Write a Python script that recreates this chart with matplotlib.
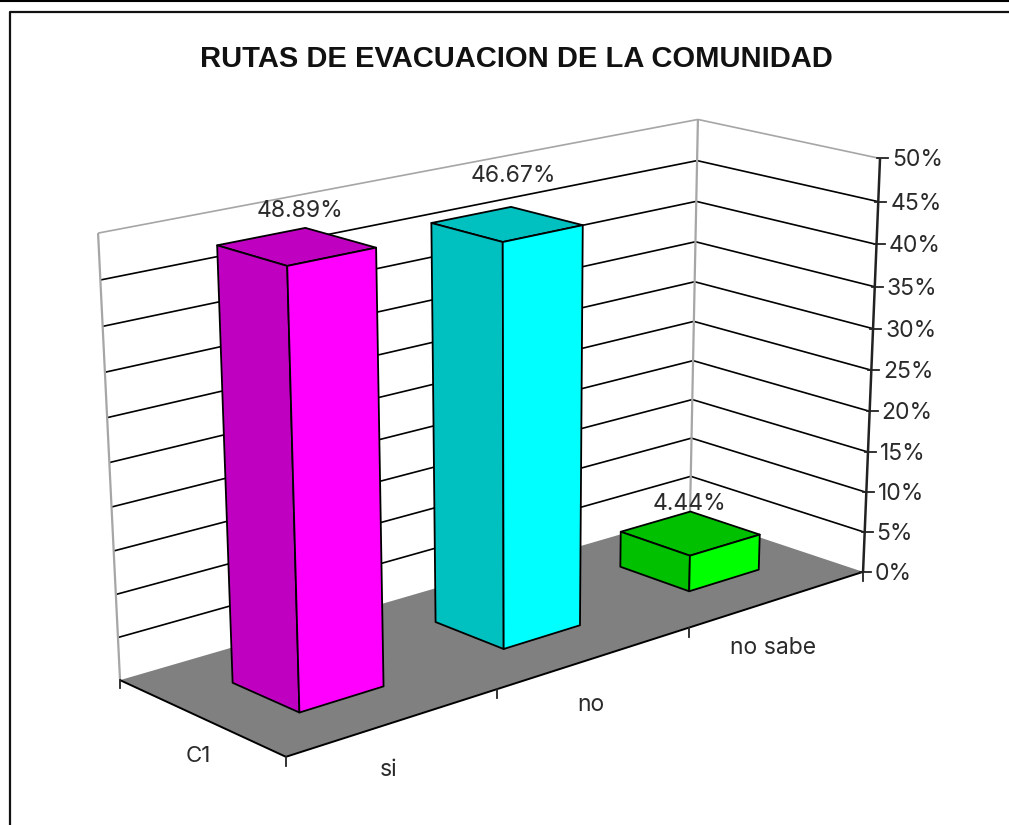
import numpy as np
import matplotlib
matplotlib.use('Agg')
import matplotlib.pyplot as plt
from matplotlib.patches import Polygon

categories = ['si', 'no', 'no sabe']
values = [48.89, 46.67, 4.44]
value_labels = ['48.89%', '46.67%', '4.44%']
tick_values = [0, 5, 10, 15, 20, 25, 30, 35, 40, 45, 50]
series_name = 'C1'
title = 'RUTAS DE EVACUACION DE LA COMUNIDAD'
side_colors = ['#c000c0', '#00c0c0', '#00c000']
front_colors = ['#ff00ff', '#00ffff', '#00ff00']

plt.rcParams['font.family'] = ['Inter', 'Liberation Sans', 'DejaVu Sans']
W, H = 1009, 825
TXT = '#2a2a2a'

# camera fit: chart box corners (cat, depth, pct) -> picture pixels
box = np.array([[0, 0, 0], [3, 0, 0], [0, 1, 0], [3, 1, 0],
                [3, 0, 50], [0, 1, 50], [3, 1, 50]], float)
pix = np.array([[286, 756], [863, 573], [120, 681], [690, 513],
                [880, 158], [98, 233], [698, 120]], float)
A = []
b = []
for (x, y, z), (u, v) in zip(box, pix):
    A.append([x, y, z, 1, 0, 0, 0, 0, -u*x, -u*y, -u*z])
    A.append([0, 0, 0, 0, x, y, z, 1, -v*x, -v*y, -v*z])
    b += [u, v]
P = np.append(np.linalg.lstsq(np.array(A), np.array(b), rcond=None)[0], 1).reshape(3, 4)


def proj(x, y, z):
    q = P @ np.array([x, y, z, 1.0])
    return q[0] / q[2], q[1] / q[2]


def poly(ax, pts, fc, ec='black', lw=1.3, zorder=2):
    ax.add_patch(Polygon([proj(*p) for p in pts], closed=True, facecolor=fc,
                         edgecolor=ec, linewidth=lw, joinstyle='round', zorder=zorder))


def line(ax, a, b, color='black', lw=1.2, zorder=1):
    pa, pb = proj(*a), proj(*b)
    ax.plot([pa[0], pb[0]], [pa[1], pb[1]], color=color, lw=lw, zorder=zorder,
            solid_capstyle='butt')


fig = plt.figure(figsize=(W/100, H/100), dpi=100)
ax = fig.add_axes([0, 0, 1, 1])
ax.set_xlim(0, W)
ax.set_ylim(H, 0)
ax.axis('off')

# frame of the screenshot
ax.plot([0, W], [0.5, 0.5], color='black', lw=1.5)
ax.plot([9.5, 9.5, W], [H, 12, 12], color='#111111', lw=1.6)

ax.text(516, 59, title, ha='center', va='center', fontsize=21, fontweight='bold',
        color='#111111', family=['Liberation Sans', 'DejaVu Sans'])

# floor
poly(ax, [(0, 0, 0), (3, 0, 0), (3, 1, 0), (0, 1, 0)], '#808080', ec='none', lw=0, zorder=1)
line(ax, (0, 0, 0), (3, 0, 0), lw=1.4, zorder=1.5)
line(ax, (0, 0, 0), (0, 1, 0), lw=1.4, zorder=1.5)

# walls and gridlines
for t in tick_values[1:-1]:
    line(ax, (0, 1, t), (3, 1, t))
    line(ax, (3, 1, t), (3, 0, t))
line(ax, (0, 1, 50), (3, 1, 50), color='#a6a6a6', lw=1.2)
line(ax, (3, 1, 50), (3, 0, 50), color='#a6a6a6', lw=1.2)
line(ax, (0, 1, 0), (0, 1, 50), color='#a6a6a6', lw=1.6)
line(ax, (3, 1, 0), (3, 1, 50), color='#a6a6a6', lw=1.6)

# value axis
line(ax, (3, 0, 0), (3, 0, 50), color='#222222', lw=1.8, zorder=1.6)
for t in tick_values:
    u, v = proj(3, 0, t)
    ax.plot([u-3, u+8], [v, v], color='#222222', lw=1.3, zorder=1.6)
    ax.text(u+12, v+2, f'{t}%', ha='left', va='center', fontsize=16.5, color=TXT)

# category ticks and labels
for i in range(4):
    u, v = proj(i, 0, 0)
    ax.plot([u, u], [v, v+9], color='#222222', lw=1.3, zorder=1.6)
u, v = proj(0, 1, 0)
ax.plot([u, u], [v, v+8], color='#222222', lw=1.3, zorder=1.6)

label_pos = [(389, 770), (591, 705), (773, 648)]
for name, (u, v) in zip(categories, label_pos):
    ax.text(u, v, name, ha='center', va='center', fontsize=16.5, color=TXT)
ax.text(198, 756, series_name, ha='center', va='center', fontsize=16, color=TXT)

# bars
x_lo, x_hi = 0.3, 0.7
y_lo, y_hi = 0.3, 0.7
anchor = [(300, 211), (513, 176), (690, 504)]
for i, val in enumerate(values):
    x0, x1 = i + x_lo, i + x_hi
    y0, y1 = y_lo, y_hi
    poly(ax, [(x0, y0, val), (x1, y0, val), (x1, y1, val), (x0, y1, val)], side_colors[i], zorder=3)
    poly(ax, [(x0, y0, 0), (x0, y1, 0), (x0, y1, val), (x0, y0, val)], side_colors[i], zorder=3)
    poly(ax, [(x0, y0, 0), (x1, y0, 0), (x1, y0, val), (x0, y0, val)], front_colors[i], zorder=3)
    ax.text(anchor[i][0], anchor[i][1], value_labels[i], ha='center', va='center',
            fontsize=16.5, color=TXT, zorder=4)

fig.savefig('out.png', dpi=100)
